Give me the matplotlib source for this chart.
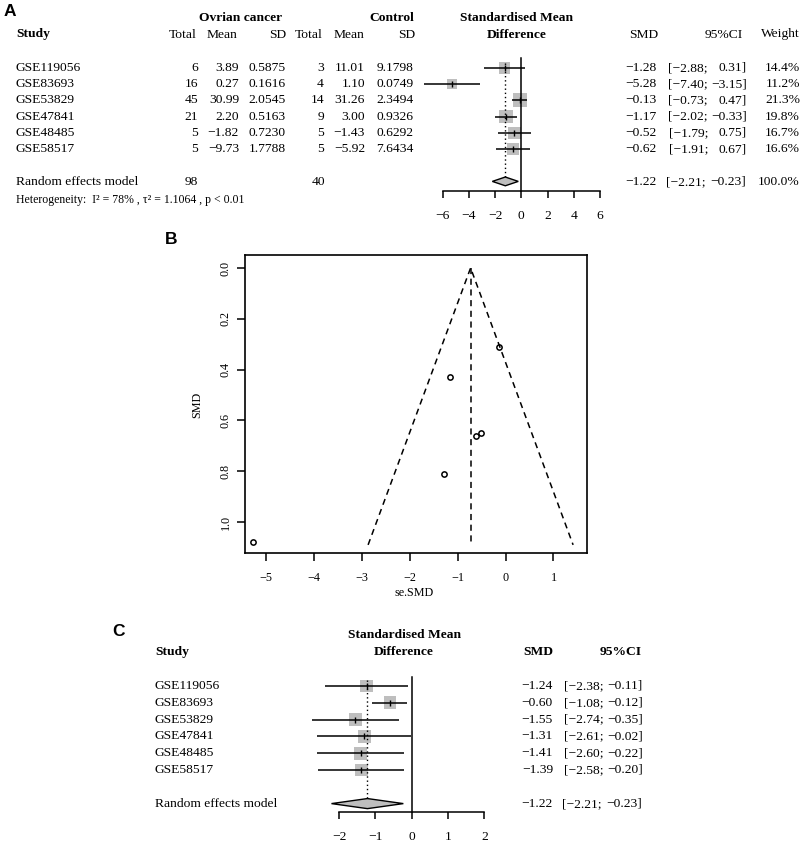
import matplotlib
matplotlib.use('Agg')
import matplotlib.pyplot as plt

plt.rcParams['font.family'] = ['Liberation Serif', 'DejaVu Serif']
plt.rcParams['axes.unicode_minus'] = True

# ---- data (panel A: meta-analysis table) ----
studies = ['GSE119056', 'GSE83693', 'GSE53829', 'GSE47841', 'GSE48485', 'GSE58517']
case_total = [6, 16, 45, 21, 5, 5]
case_mean = [3.89, 0.27, 30.99, 2.20, -1.82, -9.73]
case_sd = [0.5875, 0.1616, 2.0545, 0.5163, 0.7230, 1.7788]
ctrl_total = [3, 4, 14, 9, 5, 5]
ctrl_mean = [11.01, 1.10, 31.26, 3.00, -1.43, -5.92]
ctrl_sd = [9.1798, 0.0749, 2.3494, 0.9326, 0.6292, 7.6434]
smd = [-1.28, -5.28, -0.13, -1.17, -0.52, -0.62]
ci_low = [-2.88, -7.40, -0.73, -2.02, -1.79, -1.91]
ci_high = [0.31, -3.15, 0.47, -0.33, 0.75, 0.67]
weight = [14.4, 11.2, 21.3, 19.8, 16.7, 16.6]
pooled_smd = -1.22
pooled_ci = [-2.21, -0.23]
pooled_case, pooled_ctrl = 98, 40
heterogeneity = 'Heterogeneity:  I\u00b2 = 78% , \u03c4\u00b2 = 1.1064 , p < 0.01'

# ---- panel B: funnel plot ----
se_smd = [0.81, 1.08, 0.31, 0.43, 0.65, 0.66]
funnel_center = -0.73
funnel_ends = [-2.87, 1.41]
funnel_base = 1.09

# ---- panel C: leave-one-out ----
loo_smd = [-1.24, -0.60, -1.55, -1.31, -1.41, -1.39]
loo_low = [-2.38, -1.08, -2.74, -2.61, -2.60, -2.58]
loo_high = [-0.11, -0.12, -0.35, -0.02, -0.22, -0.20]

W, H = 803, 844
fig = plt.figure(figsize=(W / 100, H / 100), dpi=100)
GREY = '#bebebe'


def px_axes(left, top, right, bottom):
    return fig.add_axes([left / W, 1 - bottom / H, (right - left) / W, (bottom - top) / H])


def put(x, y, s, ha='left', size=9.7, **kw):
    fig.text(x / W, 1 - y / H, s, ha=ha, va='center', fontsize=size, **kw)


def num(v, fmt='.2f'):
    return format(v, fmt).replace('-', '\u2212')


def put_ci(y, lo, hi, x_semi, x_end):
    put(x_semi, y, '[' + num(lo) + ';', ha='right')
    put(x_end, y, num(hi) + ']', ha='right')


def forest(ax, est, lo, hi, sizes, xlim, ylim, ticks, zero_top, dot_top, half_h):
    rows = list(range(len(est)))
    srow = len(est) + 1
    ax.set_xlim(*xlim)
    ax.set_ylim(*ylim)
    ax.patch.set_visible(False)
    for s in ['left', 'right', 'top']:
        ax.spines[s].set_visible(False)
    ax.spines['bottom'].set_bounds(ticks[0], ticks[-1])
    ax.spines['bottom'].set_linewidth(1.1)
    ax.set_yticks([])
    ax.set_xticks(ticks)
    ax.tick_params(axis='x', direction='out', length=4.8, width=1.1, labelsize=9.7, pad=9)
    ax.scatter(est, rows, s=sizes, marker='s', color=GREY, linewidths=0, zorder=2)
    ax.hlines(rows, lo, hi, color='black', lw=1.1, zorder=3)
    ax.scatter(est, rows, s=14, marker='|', color='black', linewidths=1, zorder=4)
    ax.fill([pooled_ci[0], pooled_smd, pooled_ci[1], pooled_smd],
            [srow, srow - half_h, srow, srow + half_h],
            facecolor=GREY, edgecolor='black', lw=1, zorder=3)
    ax.plot([0, 0], [zero_top, ylim[0]], color='black', lw=1.1, clip_on=False)
    ax.plot([pooled_smd, pooled_smd], [dot_top, srow - half_h], color='black',
            lw=1, ls=(0, (1, 2)))


# ================= Panel A =================
put(9.5, 11, 'A', ha='center', size=12.5, family='Liberation Sans', weight='bold')
put(241, 18, 'Ovrian cancer', ha='center', weight='bold')
put(392, 18, 'Control', ha='center', weight='bold')
put(517, 18, 'Standardised Mean', ha='center', weight='bold')
put(517, 34.5, 'Difference', ha='center', weight='bold')
put(16, 34.5, 'Study', weight='bold')
for label, x in [('Total', 197), ('Mean', 238), ('SD', 286), ('Total', 323),
                 ('Mean', 365), ('SD', 415), ('SMD', 658), ('95%CI', 743), ('Weight', 800)]:
    put(x, 34.5, label, ha='right')

for i, name in enumerate(studies):
    y = 68 + i * 16.2
    put(16, y, name)
    put(198, y, str(case_total[i]), ha='right')
    put(239, y, num(case_mean[i]), ha='right')
    put(286, y, num(case_sd[i], '.4f'), ha='right')
    put(324, y, str(ctrl_total[i]), ha='right')
    put(365, y, num(ctrl_mean[i]), ha='right')
    put(414, y, num(ctrl_sd[i], '.4f'), ha='right')
    put(657, y, num(smd[i]), ha='right')
    put_ci(y, ci_low[i], ci_high[i], 708, 747)
    put(800, y, f'{weight[i]:.1f}%', ha='right')

put(16, 182, 'Random effects model')
put(198, 182, str(pooled_case), ha='right')
put(325, 182, str(pooled_ctrl), ha='right')
put(657, 182, num(pooled_smd), ha='right')
put_ci(182, pooled_ci[0], pooled_ci[1], 706, 746)
put(800, 182, f'{sum(weight):.1f}%', ha='right')
put(16, 200, heterogeneity, size=8.5)

ax_a = px_axes(416.4, 55, 626.2, 190.7)
forest(ax_a, smd, ci_low, ci_high, [w * 4.8 for w in weight], (-8, 8), (7.574, -0.802),
       [-6, -4, -2, 0, 2, 4, 6], -0.62, -0.3, 0.27)

# ================= Panel B =================
put(171, 240, 'B', ha='center', size=12.5, family='Liberation Sans', weight='bold')
ax_b = px_axes(245, 255, 587, 553)
ax_b.plot(smd, se_smd, 'o', mfc='none', mec='black', ms=3.8, mew=1.1)
ax_b.plot([funnel_ends[0], funnel_center, funnel_ends[1]], [funnel_base, 0, funnel_base],
          color='black', lw=1.1, dashes=(4, 3))
ax_b.plot([funnel_center, funnel_center], [0, funnel_base], color='black', lw=1.1, dashes=(4, 3))
ax_b.set_xlim(-5.44, 1.70)
ax_b.set_ylim(1.122, -0.051)
ax_b.set_xticks(range(-5, 2))
ax_b.set_yticks([0, 0.2, 0.4, 0.6, 0.8, 1.0])
ax_b.set_yticklabels(['0.0', '0.2', '0.4', '0.6', '0.8', '1.0'])
ax_b.tick_params(direction='out', length=5.5, width=1.1, labelsize=8.7)
ax_b.tick_params(axis='x', pad=8.5)
ax_b.tick_params(axis='y', pad=4)
plt.setp(ax_b.get_yticklabels(), rotation=90, va='center')
for s in ax_b.spines.values():
    s.set_linewidth(1.2)
put(414, 593, 'se.SMD', ha='center', size=8.7)
fig.text(197 / W, 1 - 405 / H, 'SMD', rotation=90, ha='center', va='center', fontsize=8.7)

# ================= Panel C =================
put(119, 631, 'C', ha='center', size=12.5, family='Liberation Sans', weight='bold')
put(405, 635, 'Standardised Mean', ha='center', weight='bold')
put(404, 652, 'Difference', ha='center', weight='bold')
put(155, 652, 'Study', weight='bold')
put(553, 652, 'SMD', ha='right', weight='bold')
put(642, 652, '95%CI', ha='right', weight='bold')

for i, name in enumerate(studies):
    y = 686 + i * 16.8
    put(155, y, name)
    put(553, y, num(loo_smd[i]), ha='right')
    put_ci(y, loo_low[i], loo_high[i], 604, 643)

put(155, 804, 'Random effects model')
put(553, 804, num(pooled_smd), ha='right')
put_ci(804, pooled_ci[0], pooled_ci[1], 602, 642)

ax_c = px_axes(302.8, 670, 520.6, 812.3)
forest(ax_c, loo_smd, loo_low, loo_high, [85] * len(loo_smd), (-3, 3), (7.518, -0.952),
       [-2, -1, 0, 1, 2], -0.55, -0.36, 0.3)

fig.savefig('out.png', dpi=100)
